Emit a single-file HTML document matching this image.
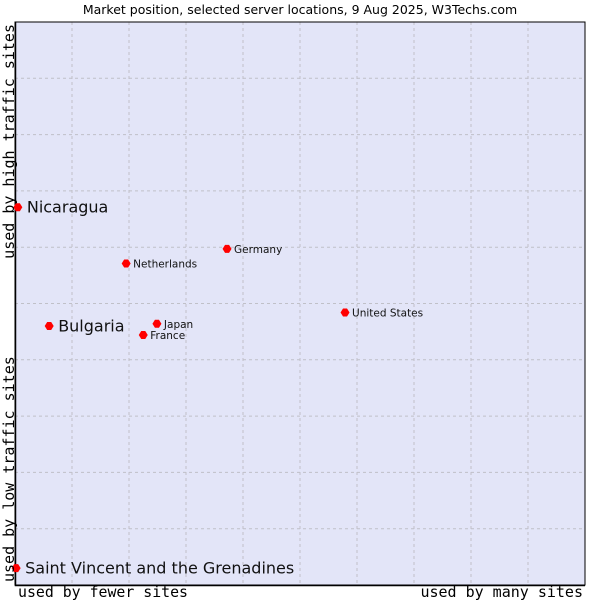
<!DOCTYPE html>
<html><head><meta charset="utf-8"><style>
body{margin:0;background:#fff;}
svg{display:block;}
</style></head><body>
<svg id="chart" width="600" height="600" xmlns="http://www.w3.org/2000/svg">
<text x="300" y="14" text-anchor="middle" font-family="DejaVu Sans, sans-serif" font-size="12.5" fill="#000">Market position, selected server locations, 9 Aug 2025, W3Techs.com</text>
<rect x="15" y="22" width="570" height="563" fill="#e3e5f8"/>
<g id="grid"></g>
<path d="M15,22 H585 V585 H15 Z" fill="none" stroke="#000" stroke-width="1"/>
<path d="M15.5,22 V585.5 H585" fill="none" stroke="#000" stroke-width="1.5"/>
<g id="points"></g>
<text x="18" y="597" font-family="DejaVu Sans Mono, monospace" font-size="15" textLength="170" lengthAdjust="spacingAndGlyphs">used by fewer sites</text>
<text x="583" y="597" text-anchor="end" font-family="DejaVu Sans Mono, monospace" font-size="15">used by many sites</text>
<text transform="translate(14,24) rotate(-90)" text-anchor="end" font-family="DejaVu Sans Mono, monospace" font-size="15">used by high traffic sites</text>
<text transform="translate(14,582) rotate(-90)" font-family="DejaVu Sans Mono, monospace" font-size="15">used by low traffic sites</text>
</svg>
<script>
const names=["Nicaragua","Netherlands","Germany","United States","Japan","France","Bulgaria","Saint Vincent and the Grenadines"];
const xValues=[0.5,19.5,37.2,57.9,24.9,22.5,6.0,0.2];
const yValues=[67.1,57.1,59.7,48.4,46.4,44.4,46.0,3.0];
const bigLabel=[true,false,false,false,false,false,true,true];
const gridTicks=[10,20,30,40,50,60,70,80,90];
const NS="http://www.w3.org/2000/svg";
const X0=15,X1=585,Y0=585,Y1=22;
const sx=v=>X0+(X1-X0)*v/100;
const sy=v=>Y0-(Y0-Y1)*v/100;
const grid=document.getElementById('grid');
gridTicks.forEach(t=>{
  const v=document.createElementNS(NS,'line');
  
  
  v.setAttribute('x1',sx(t));v.setAttribute('x2',sx(t));v.setAttribute('y1',Y1);v.setAttribute('y2',Y0);
  v.setAttribute('stroke','#c0c0c8');v.setAttribute('stroke-dasharray','3,3');
  grid.appendChild(v);
  const h=document.createElementNS(NS,'line');
  
  
  h.setAttribute('y1',sy(t));h.setAttribute('y2',sy(t));h.setAttribute('x1',X0);h.setAttribute('x2',X1);
  h.setAttribute('stroke','#c0c0c8');h.setAttribute('stroke-dasharray','3,3');
  grid.appendChild(h);
});
const pts=document.getElementById('points');
names.forEach((n,i)=>{
  const x=sx(xValues[i]),y=sy(yValues[i]);
  const p=document.createElementNS(NS,'path');
  
  
  p.setAttribute('d',`M${x-4.5},${y} L${x-2},${y-4} L${x+2},${y-4} L${x+4.5},${y} L${x+2},${y+4} L${x-2},${y+4} Z`);
  p.setAttribute('fill','#ff0000');
  pts.appendChild(p);
  const t=document.createElementNS(NS,'text');
  
  
  const big=bigLabel[i];
  t.setAttribute('x',x+(big?9:7));
  t.setAttribute('y',y+(big?5.5:4));
  t.setAttribute('font-family','DejaVu Sans, sans-serif');
  t.setAttribute('font-size',big?'16':'10.5');
  t.setAttribute('fill','#111');
  t.textContent=n;
  pts.appendChild(t);
});
</script>
</body></html>
